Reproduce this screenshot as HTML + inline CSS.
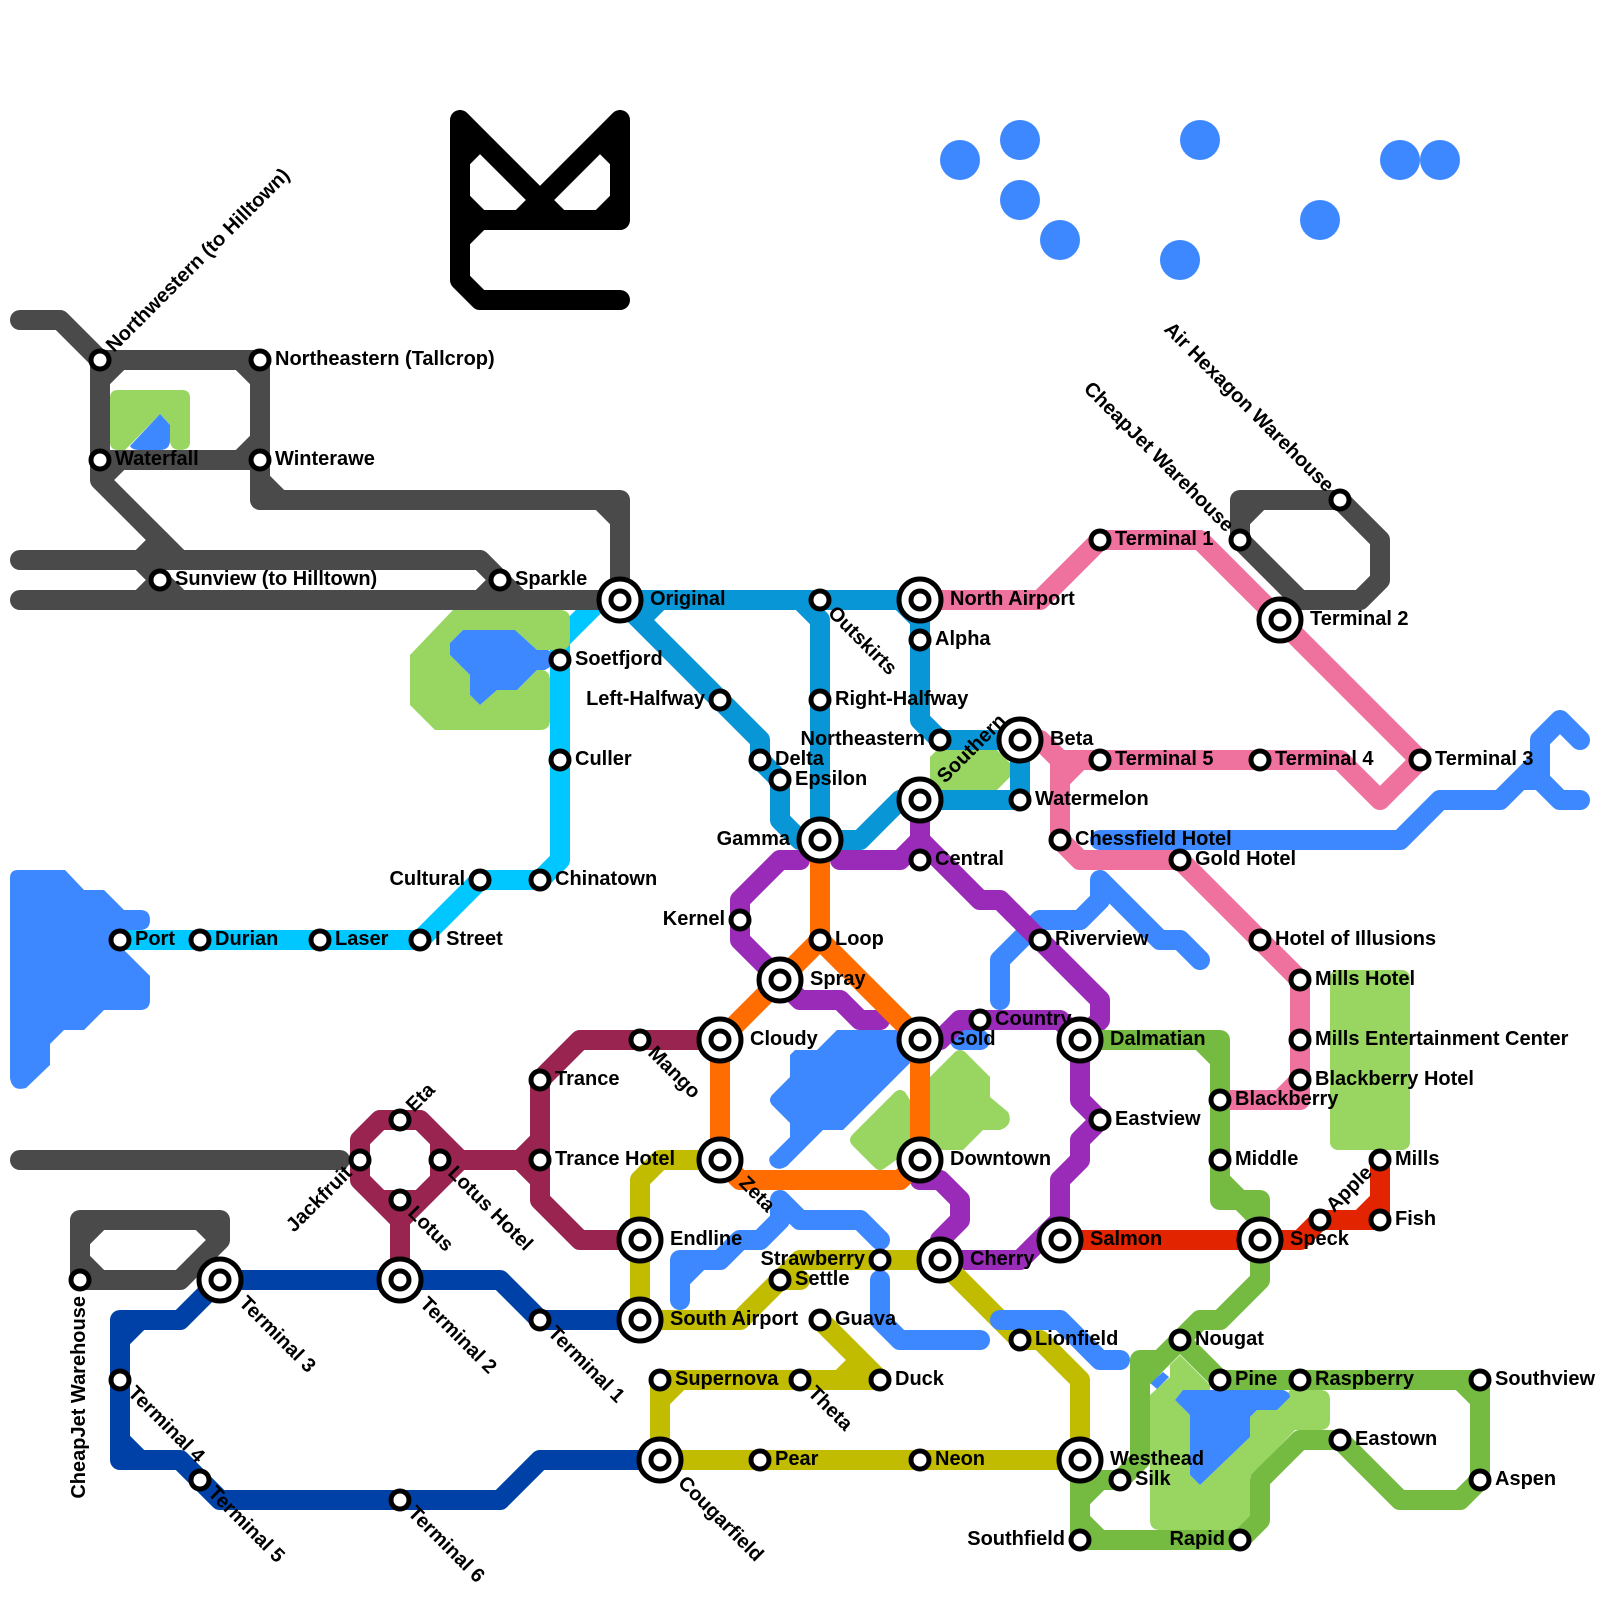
<!DOCTYPE html>
<html><head><meta charset="utf-8"><style>
html,body{margin:0;padding:0;background:#fff}
svg{display:block}
.l{fill:none;stroke-width:20;stroke-linecap:round;stroke-linejoin:round}
text{font-family:"Liberation Sans",sans-serif;font-weight:bold;font-size:20px;fill:#000}
.e{text-anchor:end}
.s{fill:#fff;stroke:#000;stroke-width:5}
</style></head><body>
<svg width="1600" height="1600" viewBox="0 0 1600 1600" xmlns="http://www.w3.org/2000/svg">
<rect width="1600" height="1600" fill="#fff"/>
<!-- cyan -->
<path class="l" stroke="#00c7ff" d="M120 940H420L480 880H540L560 860V640L600 600H620"/>
<!-- parks -->
<g fill="#98d561">
<path d="M118 390H182Q190 390 190 398V442Q190 450 180 450T170 440V425L160 414L125 450H118Q110 450 110 442V398Q110 390 118 390Z"/>
<path d="M453 610H560Q570 610 570 620V640Q570 650 560 650H537L515 630H463L450 643V655L470 675V695L480 705L497 690H517L537 670H543Q550 672 550 680V720Q550 730 540 730H435L410 705V655Z"/>
<rect x="1330" y="970" width="80" height="180" rx="8"/>
<path d="M930 1077L955 1052Q960 1048 965 1052L990 1077V1097L1008 1112Q1014 1125 1000 1130H983L963 1150H930Z"/>
<path d="M895 1092Q900 1088 905 1092L910 1100V1150L885 1168Q880 1172 875 1168L853 1146Q847 1140 853 1134Z"/>
<path d="M1180 1355L1210 1385V1390H1183L1175 1400L1190 1415V1475L1200 1485L1250 1437V1417L1257 1410H1277L1290 1390H1320Q1330 1390 1330 1400V1420Q1330 1430 1320 1430H1295L1250 1477V1530H1160Q1150 1530 1150 1520V1395L1170 1377V1365Z"/>
<path d="M930 757L937 750H997L1010 763V777L997 790H930Z"/>
</g>
<!-- water -->
<g fill="#3d87ff">
<circle cx="960" cy="160" r="20"/><circle cx="1020" cy="140" r="20"/><circle cx="1020" cy="200" r="20"/><circle cx="1060" cy="240" r="20"/><circle cx="1180" cy="260" r="20"/><circle cx="1200" cy="140" r="20"/><circle cx="1320" cy="220" r="20"/><circle cx="1400" cy="160" r="20"/><circle cx="1440" cy="160" r="20"/>
<path d="M160 414L170 425V440Q170 450 160 450H140Q132 450 130 446Z"/>
<path d="M463 630H515L537 650H548L562 660L545 670H537L517 690H497L480 705L470 695V675L450 655V643Z"/>
<path d="M18 870H65L84 890H104L124 910H140Q150 910 150 920T140 930H124V950L150 976V1000Q150 1010 140 1010H104L84 1030H64L50 1044V1065L26 1088Q12 1092 10 1078V878Q10 870 18 870Z"/>
<path d="M837 1030H905L910 1063L843 1130H823L787 1166Q778 1172 771 1165Q767 1158 772 1155L790 1137V1123L772 1105Q768 1100 772 1095L790 1077V1055L795 1050H817Z"/>
<path d="M1183 1390H1283Q1290 1392 1290 1397L1277 1410H1257L1250 1417V1437L1200 1485L1190 1475V1415L1175 1400Z"/>
<path d="M1150 1383L1163 1372L1169 1377L1157 1389Z"/>
</g>
<g class="l" stroke="#3d87ff">
<path class="l" d="M1100 840H1400L1440 800H1500L1540 760V740L1560 720L1580 740M1500 800L1520 780H1540V760M1540 780L1560 800H1580"/>
<path class="l" d="M1000 1000V960L1040 920H1080L1100 900V880L1160 940H1180L1200 960M1080 920L1100 900"/>
<path class="l" d="M960 1040H980"/>
<path class="l" d="M680 1300V1260H720L740 1240H760L780 1220V1200L800 1220H860L880 1240M680 1280L700 1260"/>
<path class="l" d="M880 1280V1320L900 1340H980"/>
</g>
<!-- black logo -->
<path class="l" stroke="#000" d="M620 120L520 220M460 120L560 220M460 120V280L480 300H620M620 120V220H460M460 240L480 220M460 200L480 220M460 160L480 140M600 140L620 160M620 200L600 220"/>
<!-- gray -->
<g class="l" stroke="#4a4a4a">
<path class="l" d="M20 320H60L100 360H260V460H100M100 360V480L180 560M100 380L120 360M240 360L260 380M260 440L240 460M100 480L120 460"/>
<path class="l" d="M260 460V500H620V600M260 480L280 500M600 500L620 520"/>
<path class="l" d="M20 560H480L520 600M20 600H620M500 580L480 600M160 540L140 560L160 580L140 600M160 580L180 600"/>
<path class="l" d="M20 1160H340"/>
<path class="l" d="M80 1280V1220H220V1240L180 1280H80M80 1240L100 1220M200 1220L220 1240M80 1260L100 1280"/>
<path class="l" d="M1240 540V500H1340L1380 540V580L1360 600H1300L1240 540M1240 520L1260 500"/>
</g>
<!-- pink -->
<path class="l" stroke="#ef719e" d="M920 600H1040L1100 540H1200L1420 760L1380 800L1340 760H1060M1020 740H1040L1060 760V840L1080 860H1180L1300 980V1100H1220M1060 780L1080 760M1280 1100L1300 1080"/>
<!-- purple -->
<path class="l" stroke="#9a2bb8" d="M800 860H780L740 900V940L780 980L800 1000H840L860 1020H880M840 860H900L920 840L980 900H1000L1100 1000V1020L1080 1040M920 800V860M920 1040H940L960 1020H1060L1080 1040V1100L1100 1120L1080 1140V1160L1060 1180V1240M1060 1220L1020 1260H940V1240L960 1220V1200L940 1180H920V1160"/>
<!-- teal -->
<path class="l" stroke="#0896d7" d="M620 600H920V720L940 740H1020V800H920M620 600L760 740V760L780 780V820L800 840H860L900 800H920M660 600L640 620M800 600L820 620V840M900 600L920 620"/>
<!-- orange -->
<path class="l" stroke="#ff6c00" d="M820 840V940L720 1040V1160L740 1180H900L920 1160V1040L820 940"/>
<!-- maroon -->
<path class="l" stroke="#98244f" d="M720 1040H580L540 1080V1200L580 1240H640M540 1160H460L420 1120H380L360 1140V1180L400 1220V1280M440 1140V1180M460 1160L400 1220M380 1200H420M520 1160L540 1140M520 1160L540 1180"/>
<!-- yellow -->
<g class="l" stroke="#c2bc00">
<path class="l" d="M720 1160H660L640 1180V1320H740L780 1280H800M780 1280L800 1260H940L1020 1340H1040L1080 1380V1460H660V1380H880M660 1400L680 1380M820 1320L880 1380M840 1380L860 1360"/>
</g>
<path class="l" stroke="#3d87ff" d="M1000 1320H1060L1100 1360H1120"/>
<!-- green -->
<path class="l" stroke="#75bb41" d="M1080 1040H1220V1180L1240 1200H1260V1280L1220 1320H1200L1160 1360H1140V1460L1120 1480H1080M1220 1180V1200H1240L1260 1220M1200 1040L1220 1060M1180 1340L1220 1380H1480V1480L1460 1500H1400L1340 1440H1300L1260 1480V1520L1240 1540H1080V1460M1080 1500L1100 1480M1080 1520L1100 1540M1140 1380L1180 1340M1460 1380L1480 1400"/>
<!-- red -->
<path class="l" stroke="#e22500" d="M1060 1240H1300L1320 1220H1380V1160M1360 1220L1380 1200"/>
<!-- dark blue -->
<path class="l" stroke="#0041a8" d="M220 1280H500L540 1320H640M220 1280L180 1320H120V1460H180L220 1500H500L540 1460H660M120 1340L140 1320M120 1440L140 1460"/>
<!-- small stations -->
<g class="s">
<circle cx="100" cy="360" r="9"/><circle cx="260" cy="360" r="9"/><circle cx="100" cy="460" r="9"/><circle cx="260" cy="460" r="9"/><circle cx="160" cy="580" r="9"/><circle cx="500" cy="580" r="9"/>
<circle cx="560" cy="660" r="9"/><circle cx="560" cy="760" r="9"/><circle cx="540" cy="880" r="9"/><circle cx="480" cy="880" r="9"/><circle cx="420" cy="940" r="9"/><circle cx="320" cy="940" r="9"/><circle cx="200" cy="940" r="9"/><circle cx="120" cy="940" r="9"/>
<circle cx="720" cy="700" r="9"/><circle cx="820" cy="600" r="9"/><circle cx="820" cy="700" r="9"/><circle cx="760" cy="760" r="9"/><circle cx="780" cy="780" r="9"/><circle cx="920" cy="640" r="9"/><circle cx="940" cy="740" r="9"/><circle cx="1020" cy="800" r="9"/>
<circle cx="920" cy="860" r="9"/><circle cx="740" cy="920" r="9"/><circle cx="820" cy="940" r="9"/><circle cx="1040" cy="940" r="9"/><circle cx="980" cy="1020" r="9"/><circle cx="1100" cy="1120" r="9"/>
<circle cx="1100" cy="540" r="9"/><circle cx="1240" cy="540" r="9"/><circle cx="1340" cy="500" r="9"/><circle cx="1420" cy="760" r="9"/><circle cx="1260" cy="760" r="9"/><circle cx="1100" cy="760" r="9"/><circle cx="1060" cy="840" r="9"/><circle cx="1180" cy="860" r="9"/><circle cx="1260" cy="940" r="9"/>
<circle cx="1300" cy="980" r="9"/><circle cx="1300" cy="1040" r="9"/><circle cx="1300" cy="1080" r="9"/><circle cx="1220" cy="1100" r="9"/><circle cx="1220" cy="1160" r="9"/><circle cx="1380" cy="1160" r="9"/><circle cx="1380" cy="1220" r="9"/><circle cx="1320" cy="1220" r="9"/>
<circle cx="1180" cy="1340" r="9"/><circle cx="1220" cy="1380" r="9"/><circle cx="1300" cy="1380" r="9"/><circle cx="1480" cy="1380" r="9"/><circle cx="1340" cy="1440" r="9"/><circle cx="1480" cy="1480" r="9"/><circle cx="1120" cy="1480" r="9"/><circle cx="1080" cy="1540" r="9"/><circle cx="1240" cy="1540" r="9"/>
<circle cx="1020" cy="1340" r="9"/><circle cx="880" cy="1260" r="9"/><circle cx="780" cy="1280" r="9"/><circle cx="820" cy="1320" r="9"/><circle cx="880" cy="1380" r="9"/><circle cx="800" cy="1380" r="9"/><circle cx="660" cy="1380" r="9"/><circle cx="760" cy="1460" r="9"/><circle cx="920" cy="1460" r="9"/>
<circle cx="640" cy="1040" r="9"/><circle cx="540" cy="1080" r="9"/><circle cx="540" cy="1160" r="9"/><circle cx="400" cy="1120" r="9"/><circle cx="360" cy="1160" r="9"/><circle cx="440" cy="1160" r="9"/><circle cx="400" cy="1200" r="9"/>
<circle cx="80" cy="1280" r="9"/><circle cx="120" cy="1380" r="9"/><circle cx="200" cy="1480" r="9"/><circle cx="400" cy="1500" r="9"/><circle cx="540" cy="1320" r="9"/>
</g>
<!-- big stations -->
<g class="s">
<circle cx="620" cy="600" r="21"/><circle cx="620" cy="600" r="9"/>
<circle cx="920" cy="600" r="21"/><circle cx="920" cy="600" r="9"/>
<circle cx="1020" cy="740" r="21"/><circle cx="1020" cy="740" r="9"/>
<circle cx="920" cy="800" r="21"/><circle cx="920" cy="800" r="9"/>
<circle cx="820" cy="840" r="21"/><circle cx="820" cy="840" r="9"/>
<circle cx="780" cy="980" r="21"/><circle cx="780" cy="980" r="9"/>
<circle cx="720" cy="1040" r="21"/><circle cx="720" cy="1040" r="9"/>
<circle cx="920" cy="1040" r="21"/><circle cx="920" cy="1040" r="9"/>
<circle cx="1080" cy="1040" r="21"/><circle cx="1080" cy="1040" r="9"/>
<circle cx="720" cy="1160" r="21"/><circle cx="720" cy="1160" r="9"/>
<circle cx="920" cy="1160" r="21"/><circle cx="920" cy="1160" r="9"/>
<circle cx="640" cy="1240" r="21"/><circle cx="640" cy="1240" r="9"/>
<circle cx="640" cy="1320" r="21"/><circle cx="640" cy="1320" r="9"/>
<circle cx="940" cy="1260" r="21"/><circle cx="940" cy="1260" r="9"/>
<circle cx="1060" cy="1240" r="21"/><circle cx="1060" cy="1240" r="9"/>
<circle cx="1260" cy="1240" r="21"/><circle cx="1260" cy="1240" r="9"/>
<circle cx="1280" cy="620" r="21"/><circle cx="1280" cy="620" r="9"/>
<circle cx="1080" cy="1460" r="21"/><circle cx="1080" cy="1460" r="9"/>
<circle cx="660" cy="1460" r="21"/><circle cx="660" cy="1460" r="9"/>
<circle cx="220" cy="1280" r="21"/><circle cx="220" cy="1280" r="9"/>
<circle cx="400" cy="1280" r="21"/><circle cx="400" cy="1280" r="9"/>
</g>
<!-- right labels -->
<text x="275" y="365">Northeastern (Tallcrop)</text>
<text x="115" y="465">Waterfall</text>
<text x="275" y="465">Winterawe</text>
<text x="175" y="585">Sunview (to Hilltown)</text>
<text x="515" y="585">Sparkle</text>
<text x="575" y="665">Soetfjord</text>
<text x="575" y="765">Culler</text>
<text x="555" y="885">Chinatown</text>
<text x="435" y="945">I Street</text>
<text x="335" y="945">Laser</text>
<text x="215" y="945">Durian</text>
<text x="135" y="945">Port</text>
<text x="650" y="605">Original</text>
<text x="950" y="605">North Airport</text>
<text x="935" y="645">Alpha</text>
<text x="835" y="705">Right-Halfway</text>
<text x="775" y="765">Delta</text>
<text x="795" y="785">Epsilon</text>
<text x="1050" y="745">Beta</text>
<text x="1035" y="805">Watermelon</text>
<text x="935" y="865">Central</text>
<text x="835" y="945">Loop</text>
<text x="810" y="985">Spray</text>
<text x="750" y="1045">Cloudy</text>
<text x="950" y="1045">Gold</text>
<text x="995" y="1025">Country</text>
<text x="1055" y="945">Riverview</text>
<text x="1110" y="1045">Dalmatian</text>
<text x="1115" y="1125">Eastview</text>
<text x="950" y="1165">Downtown</text>
<text x="1090" y="1245">Salmon</text>
<text x="1290" y="1245">Speck</text>
<text x="970" y="1265">Cherry</text>
<text x="1115" y="545">Terminal 1</text>
<text x="1310" y="625">Terminal 2</text>
<text x="1435" y="765">Terminal 3</text>
<text x="1275" y="765">Terminal 4</text>
<text x="1115" y="765">Terminal 5</text>
<text x="1075" y="845">Chessfield Hotel</text>
<text x="1195" y="865">Gold Hotel</text>
<text x="1275" y="945">Hotel of Illusions</text>
<text x="1315" y="985">Mills Hotel</text>
<text x="1315" y="1045">Mills Entertainment Center</text>
<text x="1315" y="1085">Blackberry Hotel</text>
<text x="1235" y="1105">Blackberry</text>
<text x="1235" y="1165">Middle</text>
<text x="1395" y="1165">Mills</text>
<text x="1395" y="1225">Fish</text>
<text x="1195" y="1345">Nougat</text>
<text x="1235" y="1385">Pine</text>
<text x="1315" y="1385">Raspberry</text>
<text x="1495" y="1385">Southview</text>
<text x="1355" y="1445">Eastown</text>
<text x="1495" y="1485">Aspen</text>
<text x="1135" y="1485">Silk</text>
<text x="1110" y="1465">Westhead</text>
<text x="1035" y="1345">Lionfield</text>
<text x="795" y="1285">Settle</text>
<text x="835" y="1325">Guava</text>
<text x="895" y="1385">Duck</text>
<text x="675" y="1385">Supernova</text>
<text x="775" y="1465">Pear</text>
<text x="935" y="1465">Neon</text>
<text x="670" y="1245">Endline</text>
<text x="670" y="1325">South Airport</text>
<text x="555" y="1085">Trance</text>
<text x="555" y="1165">Trance Hotel</text>
<!-- left labels -->
<text class="e" x="705" y="705">Left-Halfway</text>
<text class="e" x="925" y="745">Northeastern</text>
<text class="e" x="790" y="845">Gamma</text>
<text class="e" x="725" y="925">Kernel</text>
<text class="e" x="465" y="885">Cultural</text>
<text class="e" x="865" y="1265">Strawberry</text>
<text class="e" x="1065" y="1545">Southfield</text>
<text class="e" x="1225" y="1545">Rapid</text>
<!-- rotated -->
<text transform="translate(114 353) rotate(-45)">Northwestern (to Hilltown)</text>
<text transform="translate(945 784) rotate(-45)">Southern</text>
<text transform="translate(414 1113) rotate(-45)">Eta</text>
<text transform="translate(1334 1213) rotate(-45)">Apple</text>
<text class="e" transform="translate(353 1174) rotate(-45)">Jackfruit</text>
<text class="e" transform="translate(85 1296) rotate(-90)">CheapJet Warehouse</text>
<text class="e" transform="translate(1226 533) rotate(45)">CheapJet Warehouse</text>
<text class="e" transform="translate(1326 493) rotate(45)">Air Hexagon Warehouse</text>
<text transform="translate(827 614) rotate(45)">Outskirts</text>
<text transform="translate(647 1054) rotate(45)">Mango</text>
<text transform="translate(738 1184) rotate(45)">Zeta</text>
<text transform="translate(238 1304) rotate(45)">Terminal 3</text>
<text transform="translate(419 1305) rotate(45)">Terminal 2</text>
<text transform="translate(547 1334) rotate(45)">Terminal 1</text>
<text transform="translate(127 1394) rotate(45)">Terminal 4</text>
<text transform="translate(207 1494) rotate(45)">Terminal 5</text>
<text transform="translate(407 1514) rotate(45)">Terminal 6</text>
<text transform="translate(677 1484) rotate(45)">Cougarfield</text>
<text transform="translate(807 1394) rotate(45)">Theta</text>
<text transform="translate(407 1214) rotate(45)">Lotus</text>
<text transform="translate(447 1174) rotate(45)">Lotus Hotel</text>
</svg>
</body></html>
